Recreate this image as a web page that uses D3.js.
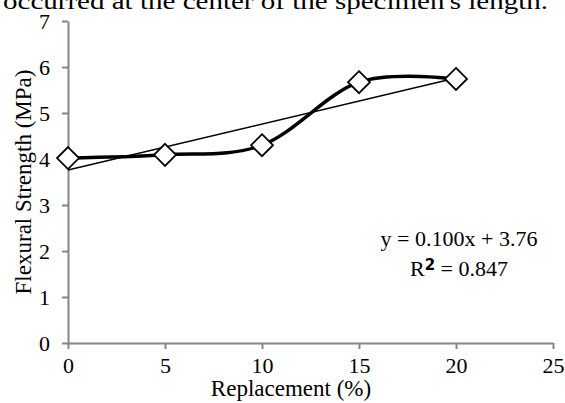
<!DOCTYPE html>
<html><head><meta charset="utf-8">
<script src="https://cdn.jsdelivr.net/npm/d3@7"></script>
<style>body{margin:0;background:#fff}svg{display:block}text{font-family:"Liberation Serif","Times New Roman",serif;fill:#000}</style>
</head><body>
<script>
const replacement = [0, 5, 10, 15, 20];
const strength = [4.02, 4.09, 4.30, 5.67, 5.74];
const xTicks = [0, 5, 10, 15, 20, 25];
const yTicks = [0, 1, 2, 3, 4, 5, 6, 7];
const trendSlope = 0.100, trendIntercept = 3.76;
const eqLines = ["y = 0.100x + 3.76", "R² = 0.847"];
const captionText = "occurred at the center of the specimen's length.";

const W = 565, H = 403;
const FONT = "Liberation Serif";
const svg = d3.select("body").append("svg").attr("width", W).attr("height", H);
const x = d3.scaleLinear().domain([0, 25]).range([68, 553]);
const y = d3.scaleLinear().domain([0, 7]).range([343, 21]);

svg.append("text").attr("x", 3).attr("y", 9).attr("font-size", 23).attr("font-family", FONT)
  .attr("textLength", 545).attr("lengthAdjust", "spacingAndGlyphs").text(captionText);

const axColor = "#868686";
const xa = svg.append("g").attr("transform", `translate(0,${y(0)})`)
  .call(d3.axisBottom(x).tickValues(xTicks).tickFormat(d3.format("d")).tickSize(6).tickSizeOuter(0).tickPadding(8));
const ya = svg.append("g").attr("transform", `translate(${x(0)},0)`)
  .call(d3.axisLeft(y).tickValues(yTicks).tickFormat(d3.format("d")).tickSize(6).tickSizeOuter(0).tickPadding(12));
[xa, ya].forEach(g => {
  g.attr("font-family", FONT).attr("font-size", 22);
  g.select(".domain").attr("stroke", axColor).attr("stroke-width", 2);
  g.selectAll(".tick line").attr("stroke", axColor).attr("stroke-width", 2);
  g.selectAll(".tick text").attr("fill", "#000");
});

svg.append("text").attr("x", 291).attr("y", 396).attr("text-anchor", "middle").attr("font-size", 23)
  .attr("font-family", FONT).text("Replacement (%)");
svg.append("text").attr("transform", `translate(31,${(y(0)+y(7))/2}) rotate(-90)`)
  .attr("text-anchor", "middle").attr("font-size", 23).attr("font-family", FONT).text("Flexural Strength (MPa)");

const pts = replacement.map((v, i) => [v, strength[i]]);
// trendline
svg.append("line").attr("x1", x(0)).attr("y1", y(trendIntercept))
  .attr("x2", x(20)).attr("y2", y(trendIntercept + trendSlope * 20))
  .attr("stroke", "#000").attr("stroke-width", 1.5);
// smoothed line
const line = d3.line().x(d => x(d[0])).y(d => y(d[1])).curve(d3.curveCatmullRom.alpha(0));
svg.append("path").datum(pts).attr("d", line).attr("fill", "none").attr("stroke", "#000").attr("stroke-width", 3.5);
// markers
svg.selectAll(".mk").data(pts).enter().append("path")
  .attr("transform", d => `translate(${x(d[0])},${y(d[1])})`)
  .attr("d", "M0,-11L11,0L0,11L-11,0Z").attr("fill", "#fff").attr("stroke", "#000").attr("stroke-width", 1.8);

// equation
const eq = svg.append("g").attr("font-family", FONT).attr("font-size", 22);
eq.append("text").attr("x", 459).attr("y", 246).attr("text-anchor", "middle").text(eqLines[0]);
const t2 = eq.append("text").attr("x", 459).attr("y", 276).attr("text-anchor", "middle");
t2.append("tspan").text("R");
t2.append("tspan").attr("dy", -6).attr("font-size", 15).attr("font-weight", "bold").attr("font-family", "DejaVu Sans").text("2");
t2.append("tspan").attr("dy", 6).text(" = 0.847");
</script>
</body></html>
